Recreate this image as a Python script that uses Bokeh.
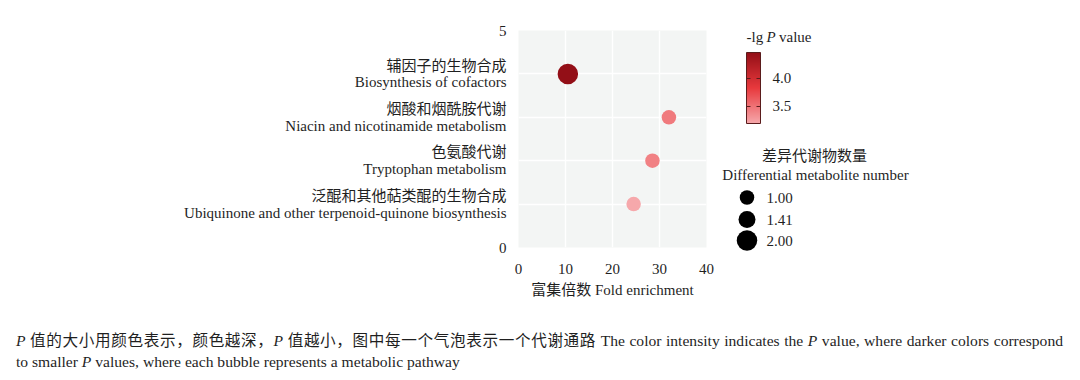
from bokeh.plotting import figure
from bokeh.models import (Range1d, FixedTicker, ColorBar, LinearColorMapper,
                          LinearInterpolator, PrintfTickFormatter, Div, ColumnDataSource)
from bokeh.layouts import row, column
from bokeh.transform import transform
from bokeh.core.properties import value
from bokeh.embed import file_html
from bokeh.resources import INLINE

# ---------------- data ----------------
pathways_cn = ["辅因子的生物合成", "烟酸和烟酰胺代谢", "色氨酸代谢", "泛醌和其他萜类醌的生物合成"]
pathways_en = ["Biosynthesis of cofactors", "Niacin and nicotinamide metabolism",
               "Tryptophan metabolism", "Ubiquinone and other terpenoid-quinone biosynthesis"]
pathway_pos = [4, 3, 2, 1]
fold_enrichment = [10.5, 32.0, 28.5, 24.5]
neg_log_p = [4.45, 3.46, 3.42, 3.20]
metabolite_count = [2, 1, 1, 1]
size_legend_values = [1.00, 1.41, 2.00]
size_legend_labels = ["1.00", "1.41", "2.00"]
colorbar_ticks = [3.5, 4.0]
x_ticks = [0, 10, 20, 30, 40]
y_ticks = [0, 1, 2, 3, 4, 5]

# ---------------- styles ----------------
FONT = "'Liberation Serif', 'Noto Sans CJK SC'"
TXT = "#1f1f1f"
FS = "15px"


def interp_palette(anchors, n=256):
    def h2rgb(h):
        h = h.lstrip("#")
        return [int(h[i:i + 2], 16) for i in (0, 2, 4)]
    cols = [h2rgb(a) for a in anchors]
    out = []
    segs = len(cols) - 1
    for i in range(n):
        t = i / (n - 1) * segs
        k = min(int(t), segs - 1)
        f = t - k
        c = [round(cols[k][j] + (cols[k + 1][j] - cols[k][j]) * f) for j in range(3)]
        out.append("#%02x%02x%02x" % tuple(c))
    return out


palette = interp_palette(["#f6a8ab", "#e8393d", "#930f17"])
mapper = LinearColorMapper(palette=palette, low=min(neg_log_p), high=max(neg_log_p))
size_map = LinearInterpolator(x=[1, 2], y=[14.5, 20.5])

# ---------------- main plot ----------------
src = ColumnDataSource(dict(x=fold_enrichment, y=pathway_pos, lgp=neg_log_p, n=metabolite_count))

W1, H = 716, 300
p = figure(width=W1, height=H, x_range=Range1d(0, 40), y_range=Range1d(0, 5),
           output_backend="svg", toolbar_location=None,
           min_border_left=518, min_border_right=10, min_border_top=30, min_border_bottom=53,
           background_fill_color="#f3f5f4", border_fill_color="white", outline_line_color=None)

p.scatter("x", "y", source=src, size=transform("n", size_map),
          fill_color=transform("lgp", mapper), line_color=None, marker="circle")

p.xaxis.ticker = FixedTicker(ticks=x_ticks)
p.yaxis.ticker = FixedTicker(ticks=y_ticks)
overrides = {0: "0", 5: "5"}
for pos, cn, en in zip(pathway_pos, pathways_cn, pathways_en):
    overrides[pos] = cn + "\n" + en
p.yaxis.major_label_overrides = overrides

for ax in (p.xaxis, p.yaxis):
    ax.axis_line_color = None
    ax.major_tick_line_color = None
    ax.minor_tick_line_color = None
    ax.major_tick_in = 0
    ax.major_tick_out = 0
    ax.major_label_text_font = FONT
    ax.major_label_text_font_size = FS
    ax.major_label_text_color = TXT
    ax.axis_label_text_font = FONT
    ax.axis_label_text_font_size = FS
    ax.axis_label_text_color = TXT
    ax.axis_label_text_font_style = "normal"

p.yaxis.major_label_standoff = 12
p.yaxis.major_label_text_line_height = 1.05
p.xaxis.major_label_standoff = 16
p.xaxis.axis_label = "富集倍数 Fold enrichment"
p.xaxis.axis_label_standoff = 5

p.xgrid.ticker = FixedTicker(ticks=[10, 20, 30])
p.ygrid.ticker = FixedTicker(ticks=pathway_pos)
p.grid.grid_line_color = "white"
p.grid.grid_line_width = 1.4

# ---------------- legend panel ----------------
L0, W2 = W1, 1080 - W1
q = figure(width=W2, height=H, x_range=Range1d(L0, L0 + W2), y_range=Range1d(H, 0),
           output_backend="svg", toolbar_location=None,
           min_border_left=0, min_border_right=0, min_border_top=0, min_border_bottom=0,
           x_axis_type=None, y_axis_type=None, outline_line_color=None,
           background_fill_color="white", border_fill_color="white")
q.grid.visible = False

# colour-bar title: -lg P value
q.text(x=[746], y=[36], text=["-lg"], text_font=value(FONT), text_font_size=FS,
       text_color=TXT, text_baseline="middle", text_align="left")
q.text(x=[766], y=[36], text=["P"], text_font=value(FONT), text_font_size=FS,
       text_font_style="italic", text_color=TXT, text_baseline="middle", text_align="left")
q.text(x=[778.5], y=[36], text=["value"], text_font=value(FONT), text_font_size=FS,
       text_color=TXT, text_baseline="middle", text_align="left")

cb = ColorBar(color_mapper=mapper, width=14, height=71, location=(30, H - 123),
              padding=0, margin=0, title=None,
              background_fill_color=None, border_line_color=None,
              bar_line_color="#5a1c1c", bar_line_width=1,
              major_tick_line_color="#5a1c1c", major_tick_in=14, major_tick_out=0,
              major_tick_line_dash="4 6", major_tick_line_width=1,
              label_standoff=12,
              ticker=FixedTicker(ticks=colorbar_ticks),
              formatter=PrintfTickFormatter(format="%.1f"),
              major_label_text_font=FONT, major_label_text_font_size=FS,
              major_label_text_color=TXT)
q.add_layout(cb, "center")

# size legend
q.text(x=[814], y=[155], text=["差异代谢物数量"], text_font=value(FONT), text_font_size=FS,
       text_color=TXT, text_baseline="middle", text_align="center")
q.text(x=[815], y=[174], text=["Differential metabolite number"], text_font=value(FONT),
       text_font_size=FS, text_color=TXT, text_baseline="middle", text_align="center")
leg_src = ColumnDataSource(dict(x=[746.5] * 3, y=[197, 219, 240], n=size_legend_values,
                                lab=size_legend_labels, lx=[766] * 3))
q.scatter("x", "y", source=leg_src, size=transform("n", size_map), marker="circle",
          fill_color="black", line_color=None)
q.text("lx", "y", text="lab", source=leg_src, text_font=value(FONT), text_font_size=FS,
       text_color=TXT, text_baseline="middle", text_align="left")

# ---------------- caption ----------------
caption = Div(
    text=("<div style='width:1047px; text-align:justify; text-align-last:justify;'>"
          "<i>P</i> 值的大小用颜色表示，颜色越深，<i>P</i> 值越小，图中每一个气泡表示一个代谢通路 "
          "The color intensity indicates the <i>P</i> value, where darker colors correspond</div>"
          "<div>to smaller <i>P</i> values, where each bubble represents a metabolic pathway</div>"),
    width=1080, height=80, margin=(0, 0, 0, 0),
    styles={"font-family": FONT, "font-size": "15.6px", "line-height": "21px",
            "color": TXT, "padding-top": "30px", "padding-left": "16px",
            "white-space": "nowrap"})

layout = column(row(p, column(q), spacing=0), caption, spacing=0)
open("out.html", "w").write(file_html(layout, INLINE))
